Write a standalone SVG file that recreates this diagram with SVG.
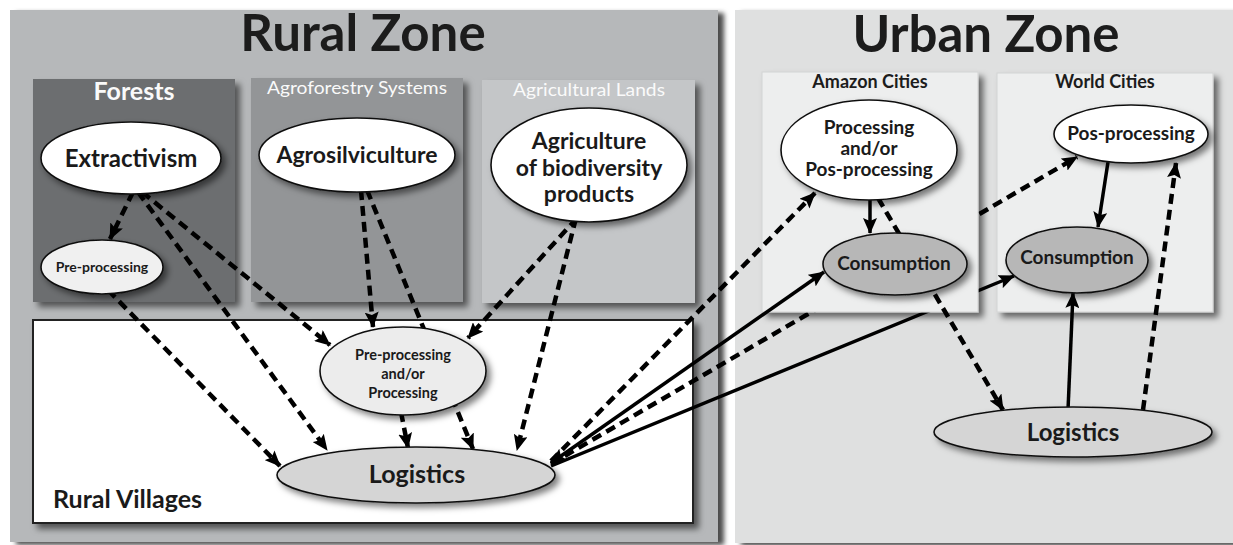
<svg xmlns="http://www.w3.org/2000/svg" width="1233" height="545" viewBox="0 0 1233 545">
<defs>
<style>
.ztitle{font-family:Lato,"Open Sans",sans-serif;font-weight:bold;font-size:51px;fill:#1c1c1c;text-anchor:middle}
.btw{font-family:Lato,"Open Sans",sans-serif;fill:#fafafa;text-anchor:middle}
.btd{font-family:Lato,"Open Sans",sans-serif;font-weight:bold;fill:#1c1c1c;text-anchor:middle;font-size:18px}
.lbl{font-family:Lato,"Open Sans",sans-serif;font-weight:bold;fill:#1a1a1a;text-anchor:middle}
.node{stroke:#111;stroke-width:1.6}
.dash{fill:none;stroke:#000;stroke-width:4.5;stroke-dasharray:10 6;marker-end:url(#ah)}
.solid{fill:none;stroke:#000;stroke-width:3.5;marker-end:url(#ah)}
</style>
<filter id="zsh" x="-5%" y="-5%" width="112%" height="112%">
<feDropShadow dx="6" dy="3" stdDeviation="2.5" flood-color="#000" flood-opacity="0.7"/>
</filter>
<filter id="bsh" x="-10%" y="-10%" width="125%" height="125%">
<feDropShadow dx="5" dy="5" stdDeviation="3" flood-color="#000" flood-opacity="0.55"/>
</filter>
<filter id="esh" x="-15%" y="-20%" width="135%" height="150%">
<feDropShadow dx="4" dy="4" stdDeviation="3" flood-color="#000" flood-opacity="0.5"/>
</filter>
<marker id="ah" viewBox="0 0 16 14" refX="15" refY="7" markerWidth="16" markerHeight="14" orient="auto-start-reverse" markerUnits="userSpaceOnUse">
<path d="M0,0 L16,7 L0,14 L3,7 z" fill="#000"/>
</marker>
</defs>
<rect width="1233" height="545" fill="#fff"/>

<g id="rural-zone">
<rect x="10" y="10" width="708" height="532" fill="#b6b8ba" filter="url(#zsh)"/>
<text class="ztitle" x="363" y="51">Rural Zone</text>
</g>
<g id="urban-zone">
<rect x="735" y="10" width="500" height="533" fill="#dfe0e0" filter="url(#zsh)"/>
<text class="ztitle" x="986" y="52">Urban Zone</text>
</g>

<g id="forests">
<rect x="33" y="79" width="202" height="223" fill="#6c6e70" filter="url(#bsh)"/>
<text class="btw" x="134" y="100" font-size="25" font-weight="bold">Forests</text>
</g>
<g id="agroforestry-systems">
<rect x="251" y="78" width="212" height="224" fill="#939597" filter="url(#bsh)"/>
<text class="btw" x="357" y="94" font-size="18" textLength="180" lengthAdjust="spacingAndGlyphs">Agroforestry Systems</text>
</g>
<g id="agricultural-lands">
<rect x="482" y="80" width="213" height="223" fill="#c4c6c8" filter="url(#bsh)"/>
<text class="btw" x="589" y="96" font-size="18" textLength="152" lengthAdjust="spacingAndGlyphs">Agricultural Lands</text>
</g>
<g id="rural-villages">
<rect x="33" y="320" width="660" height="203" fill="#fff" stroke="#222" stroke-width="2" filter="url(#bsh)"/>
<text class="lbl" x="53" y="508" font-size="25" style="text-anchor:start">Rural Villages</text>
</g>

<g id="world-cities">
<rect x="997" y="73" width="216" height="239" fill="#edeeee" stroke="#d2d3d3" stroke-width="1" filter="url(#bsh)"/>
<text class="btd" x="1105" y="88">World Cities</text>
</g>

<g id="connectors-behind-amazon">
<path class="dash" d="M551,464 L1077,157"/>
<path class="solid" d="M551,466 L1014,276"/>
</g>

<g id="amazon-cities">
<rect x="762" y="72" width="216" height="240" fill="#edeeee" stroke="#d2d3d3" stroke-width="1" filter="url(#bsh)"/>
<text class="btd" x="870" y="88">Amazon Cities</text>
</g>

<g id="connectors">
<path class="dash" d="M133,192 L110,239"/>
<path class="dash" d="M138,192 L327,450"/>
<path class="dash" d="M142,192 L330,345"/>
<path class="dash" d="M108,290 L280,466"/>
<path class="dash" d="M361,190 L373,327"/>
<path class="dash" d="M367,190 L473,449"/>
<path class="dash" d="M401,412 L408,448"/>
<path class="dash" d="M577,218 L468,338"/>
<path class="dash" d="M576,218 L517,450"/>
<path class="dash" d="M551,461 L815,193"/>
<path class="solid" d="M551,463 L824,272" marker-start="url(#ah)"/>
<path class="solid" d="M870,198 L870,233"/>
<path class="dash" d="M878,198 L1003,410"/>
<path class="solid" d="M1108,162 L1098,227"/>
<path class="solid" d="M1068,410 L1073,293"/>
<path class="dash" d="M1143,410 L1176,163"/>
</g>

<g id="extractivism">
<ellipse class="node" cx="131" cy="158" rx="90" ry="36" fill="#fff" filter="url(#esh)"/>
<text class="lbl" x="131" y="167" font-size="24">Extractivism</text>
</g>
<g id="forest-pre-processing">
<ellipse class="node" cx="102" cy="267" rx="61" ry="27" fill="#f0f0f0" filter="url(#esh)"/>
<text class="lbl" x="102" y="272" font-size="14">Pre-processing</text>
</g>
<g id="agrosilviculture">
<ellipse class="node" cx="357" cy="155" rx="98" ry="37" fill="#fff" filter="url(#esh)"/>
<text class="lbl" x="357" y="163" font-size="23">Agrosilviculture</text>
</g>
<g id="agriculture-biodiversity">
<ellipse class="node" cx="589" cy="165" rx="98" ry="57" fill="#fff" filter="url(#esh)"/>
<text class="lbl" font-size="23"><tspan x="589" y="149">Agriculture</tspan><tspan x="589" y="176">of biodiversity</tspan><tspan x="589" y="202">products</tspan></text>
</g>
<g id="rural-pre-processing">
<ellipse class="node" cx="403" cy="371" rx="83" ry="44" fill="#ececec" filter="url(#esh)"/>
<text class="lbl" font-size="14.5"><tspan x="403" y="360">Pre-processing</tspan><tspan x="403" y="379">and/or</tspan><tspan x="403" y="398">Processing</tspan></text>
</g>
<g id="rural-logistics">
<ellipse class="node" cx="416" cy="475" rx="139" ry="28" fill="#d5d5d5" filter="url(#esh)"/>
<text class="lbl" x="417" y="483" font-size="25">Logistics</text>
</g>

<g id="amazon-processing">
<ellipse class="node" cx="869" cy="150" rx="88" ry="50" fill="#fff" filter="url(#esh)"/>
<text class="lbl" font-size="19"><tspan x="869" y="134">Processing</tspan><tspan x="869" y="155">and/or</tspan><tspan x="869" y="176">Pos-processing</tspan></text>
</g>
<g id="amazon-consumption">
<ellipse class="node" cx="895" cy="264" rx="72" ry="31" fill="#b7b7b7" filter="url(#esh)"/>
<text class="lbl" x="894" y="270" font-size="19">Consumption</text>
</g>
<g id="world-pos-processing">
<ellipse class="node" cx="1131" cy="134" rx="77" ry="29" fill="#fff" filter="url(#esh)"/>
<text class="lbl" x="1131" y="140" font-size="19">Pos-processing</text>
</g>
<g id="world-consumption">
<ellipse class="node" cx="1077" cy="260" rx="71" ry="33" fill="#b7b7b7" filter="url(#esh)"/>
<text class="lbl" x="1077" y="264" font-size="19">Consumption</text>
</g>
<g id="urban-logistics">
<ellipse class="node" cx="1073" cy="432" rx="139" ry="25" fill="#d5d5d5" filter="url(#esh)"/>
<text class="lbl" x="1073" y="441" font-size="24">Logistics</text>
</g>
</svg>
